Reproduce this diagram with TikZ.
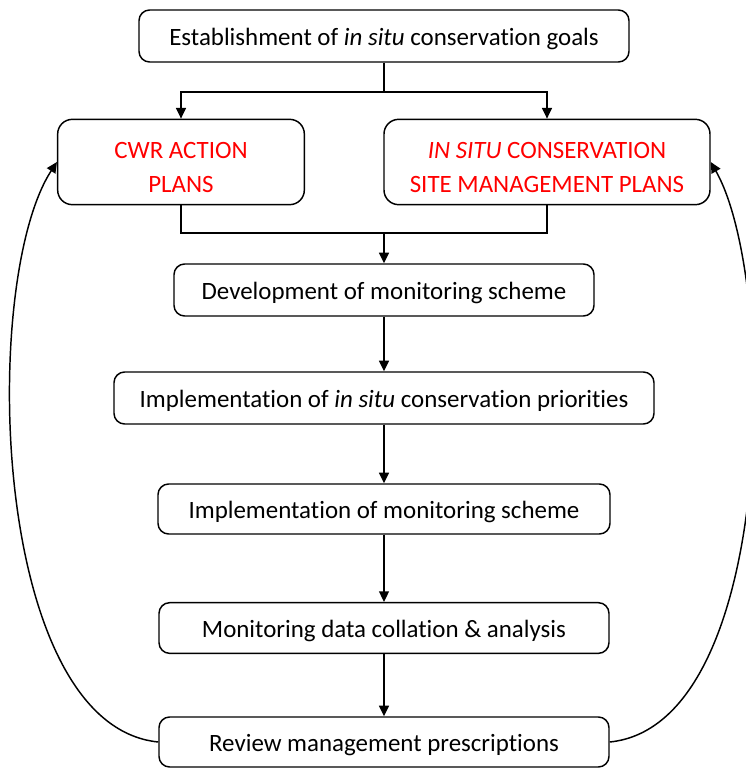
\documentclass[tikz,border=0pt]{standalone}
\usepackage{fontspec}
\setmainfont{Carlito}[Ligatures=NoCommon]
\usetikzlibrary{arrows.meta,calc}
\newcommand\lowr[1]{\raisebox{-2.5pt}[\height][\depth]{#1}}
\newcommand\twol[2]{\raisebox{-5pt}[\height][\depth]{\begin{tabular}{@{}c@{}}#1\\#2\end{tabular}}}
\newcommand\tI{t\kern0pt i}
\begin{document}
\begin{tikzpicture}[x=0.75pt,y=-0.75pt,
  box/.style={draw,line width=1.1pt,rounded corners=8pt,inner sep=0pt,align=center,
    font=\fontsize{18.7}{25.5}\selectfont},
  redtext/.style={text=red},
  arr/.style={line width=1.1pt,-{Triangle[length=8pt,width=7.5pt]}},
  ln/.style={line width=1.1pt}]
\useasboundingbox (0,0) rectangle (746,768);
\node[box,minimum width=367.5pt,minimum height=39pt] (top) at (384,36) {\lowr{Establishment of \textit{in situ} conserva\tI on goals}};
\node[box,redtext,minimum width=185pt,minimum height=64pt,rounded corners=11pt] (cwr) at (181,162) {\twol{CWR ACTION}{PLANS}};
\node[box,redtext,minimum width=244.5pt,minimum height=64pt,rounded corners=11pt] (situ) at (547,162) {\twol{\textit{IN SITU} CONSERVATION}{SITE MANAGEMENT PLANS}};
\node[box,minimum width=315pt,minimum height=39pt] (dev) at (384,290) {\lowr{Development of monitoring scheme}};
\node[box,minimum width=405pt,minimum height=39pt] (impl) at (384,398) {\lowr{Implementa\tI on of \textit{in situ} conserva\tI on priori\tI es}};
\node[box,minimum width=339pt,minimum height=37.5pt] (implm) at (384,509) {\lowr{Implementa\tI on of monitoring scheme}};
\node[box,minimum width=337.5pt,minimum height=38pt] (data) at (384,628) {\lowr{Monitoring data colla\tI on \& analysis}};
\node[box,minimum width=337.5pt,minimum height=37.5pt] (rev) at (384,742) {\lowr{Review management prescrip\tI ons}};
\coordinate (j1) at (384,92);
\coordinate (j2) at (384,233);
\draw[ln] (top.south) -- (j1);
\draw[arr] (j1) -| (cwr.north);
\draw[arr] (j1) -| (situ.north);
\draw[ln] (cwr.south) |- (j2);
\draw[ln] (situ.south) |- (j2);
\draw[arr] (j2) -- (dev.north);
\draw[arr] (dev) -- (impl);
\draw[arr] (impl) -- (implm);
\draw[arr] (implm) -- (data);
\draw[arr] (data) -- (rev);
\draw[arr] (rev.west) .. controls (-10,725) and (-20,280) .. (cwr.west);
\draw[arr] (rev.east) .. controls (778,725) and (778,280) .. (situ.east);
\end{tikzpicture}
\end{document}
